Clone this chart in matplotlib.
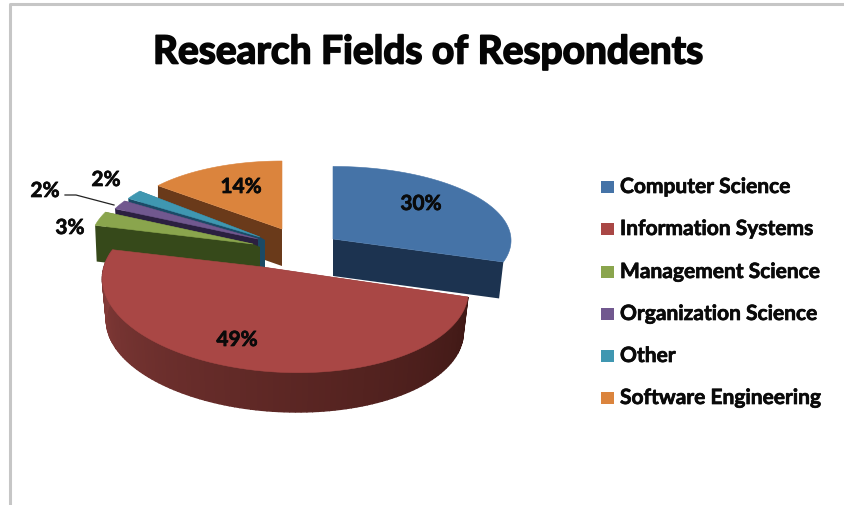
import numpy as np
import matplotlib
matplotlib.use("Agg")
import matplotlib.pyplot as plt
import matplotlib.patheffects as pe
from matplotlib.patches import Polygon, Rectangle

plt.rcParams['font.family'] = ['Lato', 'DejaVu Sans']

# --- Daten ---
categories = ["Computer Science", "Information Systems", "Management Science",
              "Organization Science", "Other", "Software Engineering"]
shares = [30, 49, 3, 2, 2, 14]
pct_labels = ["30%", "49%", "3%", "2%", "2%", "14%"]

# --- Farben (Oberseite, Seitenwand) ---
top_colors = ["#4573a7", "#a94745", "#8aa54d", "#71588f", "#3f97b1", "#db843d"]
wall_colors = ["#1c3350", "#5a2422", "#36491a", "#2b2040", "#1b4a66", "#6a3a1a"]

# --- 3D-Projektion je Stück: Spitze, Radien, Perspektive ---
# apex_x, apex_y, rx, ry, skew, persp_u, persp_v, depth, shrink, core
proj = [
    (333, 240, 178, 74, 0, 0, 0.02, 37, 0.975, 0),
    (263, 268, 176.6, 84, -10, -0.109, 0.2, 42, 0.975, 0),
    (253, 245, 163, 75, 0, 0, 0, 36, 0.99, 7),
    (258, 240, 158, 71, 0, 0, 0, 20, 0.99, 0),
    (260, 238, 156, 72, 0, 0, 0, 32, 0.99, 5),
    (282, 230, 161, 68, 0, 0, 0, 37, 1.0, 0),
]


def rim(i, theta):
    # Punkt auf dem Rand, theta im Uhrzeigersinn ab 12 Uhr
    ax0, ay0, rx, ry, skew, a, b, depth, shrink, core = proj[i]
    u, v = np.sin(theta), np.cos(theta)
    w = 1 + a * u + b * v
    return (rx * u + skew * v) / w, (-u * (abs(a) > 0) - ry * v) / w


def top_pt(i, theta):
    dx, dy = rim(i, theta)
    return proj[i][0] + dx, proj[i][1] + dy


def bottom_pt(i, theta):
    dx, dy = rim(i, theta)
    s = proj[i][8]
    return proj[i][0] + s * dx, proj[i][1] + proj[i][7] + s * dy


def mix(c1, c2, t):
    c1 = np.array(matplotlib.colors.to_rgb(c1))
    c2 = np.array(matplotlib.colors.to_rgb(c2))
    return tuple(c1 + (c2 - c1) * t)


fig = plt.figure(figsize=(8.45, 5.06), dpi=100)
ax = fig.add_axes([0, 0, 1, 1])
ax.set_xlim(0, 845)
ax.set_ylim(506, 0)
ax.axis("off")

# Rahmen
ax.plot([845, 10, 10], [5, 5, 506], color="#c6c6c6", lw=2.2)

# Winkel aus den Anteilen
edges = np.cumsum([0] + shares) / 100 * 2 * np.pi

# von hinten nach vorne zeichnen
for i in [5, 4, 3, 2, 1, 0]:
    t0, t1 = edges[i], edges[i + 1]
    thetas = np.linspace(t0, t1, 120)
    ax0, ay0, depth, core = proj[i][0], proj[i][1], proj[i][7], proj[i][9]

    # Schnittflächen
    for t in (t0, t1):
        pts = [(ax0, ay0), top_pt(i, t), bottom_pt(i, t), (ax0, ay0 + depth)]
        if i == 0 and t == t0:
            continue
        if i == 1 and t == t1:
            continue
        ax.add_patch(Polygon(pts, closed=True, fc=wall_colors[i], ec="none", zorder=6 - i))

    # schmale Kante an der Spitze
    if core:
        ax.add_patch(Polygon([(ax0, ay0), (ax0 + core, ay0 + 3), (ax0 + core, ay0 + depth),
                              (ax0, ay0 + depth)], closed=True, fc=wall_colors[i], ec="none",
                             zorder=6 - i))

    # Außenwand nur beim großen Stück, mit Verlauf
    if i == 1:
        for k in range(len(thetas) - 1):
            q = [top_pt(i, thetas[k]), top_pt(i, thetas[k + 1]),
                 bottom_pt(i, thetas[k + 1]), bottom_pt(i, thetas[k])]
            c = mix("#3f1815", "#8a3e3c", (thetas[k] - t0) / (t1 - t0))
            ax.add_patch(Polygon(q, closed=True, fc=c, ec=c, lw=1.0, zorder=6 - i))

    # Oberseite
    outline = [(ax0, ay0)] + [top_pt(i, t) for t in thetas]
    ax.add_patch(Polygon(outline, closed=True, fc=top_colors[i], ec=top_colors[i],
                         lw=0.4, zorder=6 - i + 0.5))

# Titel
title = ax.text(428, 53, "Research Fields of Respondents", fontsize=28, fontweight="bold",
                ha="center", va="center", color="#050505")
title.set_path_effects([pe.withStroke(linewidth=1.2, foreground="#050505")])

# Prozentwerte
label_pos = [(421, 205), (237, 341), (70, 229), (45, 192), (106, 181), (241, 188)]
for txt, (x, y) in zip(pct_labels, label_pos):
    t = ax.text(x, y, txt, fontsize=15, fontweight="bold", ha="center", va="center",
                color="#0a0a0a", zorder=10)
    t.set_path_effects([pe.withStroke(linewidth=0.5, foreground="#0a0a0a")])

# Führungslinie
ax.plot([65, 76, 114], [196, 196, 206], color="#222222", lw=0.9, zorder=9)

# Legende
legend_y = [188, 230, 273, 315, 357, 399]
for name, col, y in zip(categories, top_colors, legend_y):
    ax.add_patch(Rectangle((601, y - 6), 13, 12, fc=col, ec="none"))
    t = ax.text(620, y, name, fontsize=15.1, fontweight="bold", ha="left", va="center",
                color="#0a0a0a")
    t.set_path_effects([pe.withStroke(linewidth=0.5, foreground="#0a0a0a")])

fig.savefig("out.png", dpi=100)
